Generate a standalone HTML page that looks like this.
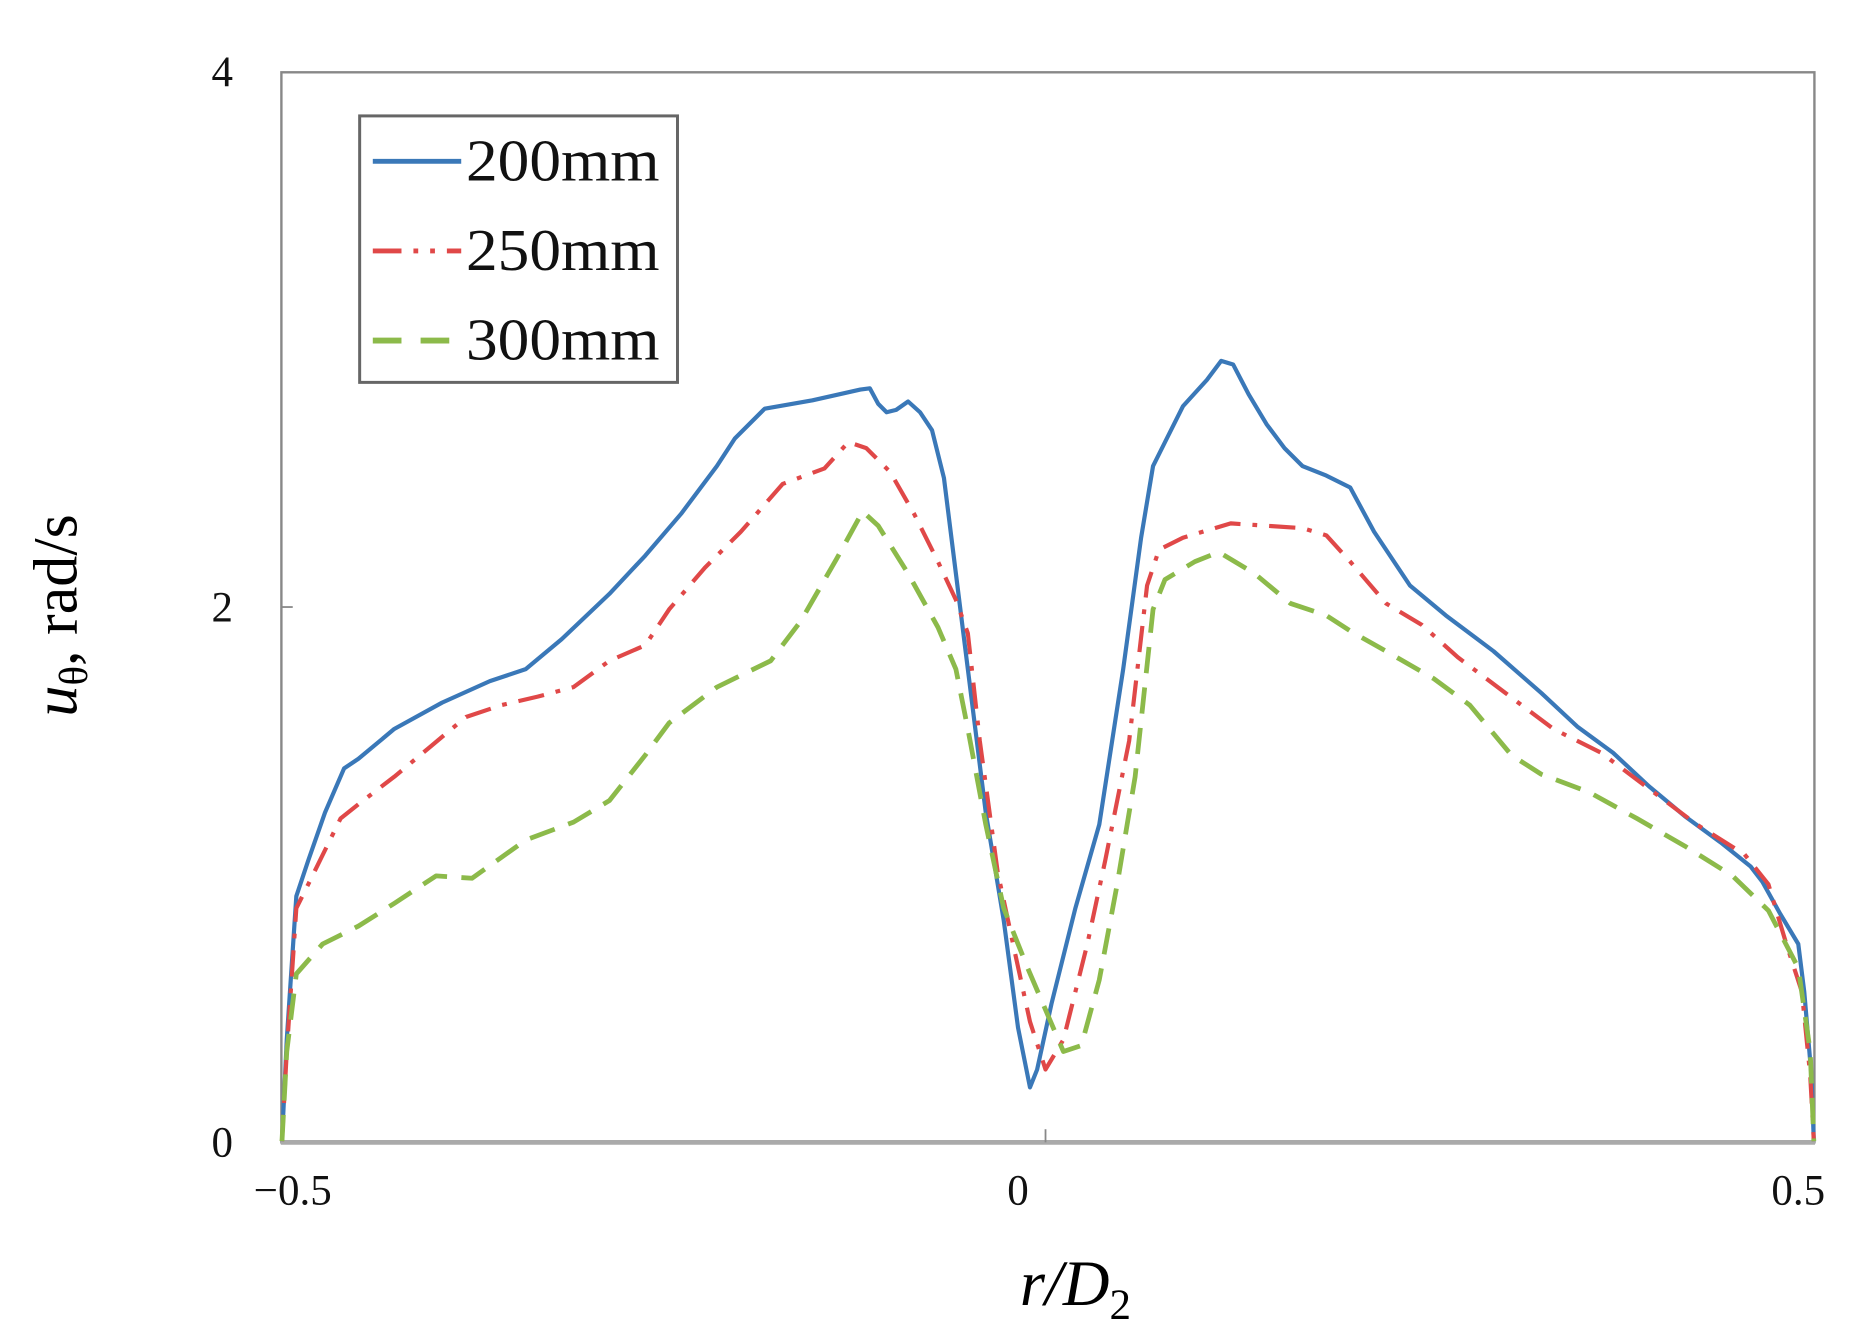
<!DOCTYPE html>
<html><head><meta charset="utf-8"><style>html,body{margin:0;padding:0;background:#fff}svg{display:block}</style></head>
<body>
<svg width="1864" height="1340" viewBox="0 0 1560 1121.4" preserveAspectRatio="none" xmlns="http://www.w3.org/2000/svg" font-family="'Liberation Serif', serif">
<rect x="0" y="0" width="1560" height="1121.4" fill="#fff"/>
<rect x="235.5" y="60.5" width="1283" height="895.5" fill="none" stroke="#888" stroke-width="2"/>
<line x1="235" y1="956" x2="1519" y2="956" stroke="#aaa" stroke-width="4"/>
<line x1="875" y1="945" x2="875" y2="956" stroke="#888" stroke-width="1.5"/>
<line x1="235" y1="508" x2="245" y2="508" stroke="#888" stroke-width="1.5"/>
<g font-size="36" fill="#111">
<text x="195" y="72" text-anchor="end">4</text>
<text x="195" y="520" text-anchor="end">2</text>
<text x="195" y="968" text-anchor="end">0</text>
<text x="245" y="1008" text-anchor="middle">−0.5</text>
<text x="852" y="1008" text-anchor="middle">0</text>
<text x="1505" y="1008" text-anchor="middle">0.5</text>
</g>
<text x="900" y="1092" font-size="54" font-style="italic" text-anchor="middle">r/D<tspan font-size="36" font-style="normal" dy="12">2</tspan></text>
<text transform="translate(64,515) rotate(-90)" font-size="52" text-anchor="middle"><tspan font-style="italic">u</tspan><tspan font-size="34" dy="9">θ</tspan><tspan dy="-9">, rad/s</tspan></text>
<rect x="301" y="97" width="266" height="223" fill="#fff" stroke="#666" stroke-width="2.5"/>
<g font-size="50" fill="#111">
<text x="390" y="151" textLength="162" lengthAdjust="spacingAndGlyphs">200mm</text>
<text x="390" y="226" textLength="162" lengthAdjust="spacingAndGlyphs">250mm</text>
<text x="390" y="301" textLength="162" lengthAdjust="spacingAndGlyphs">300mm</text>
</g>
<line x1="312" y1="135" x2="386" y2="135" stroke="#3a78b8" stroke-width="4"/>
<line x1="312" y1="210" x2="386" y2="210" stroke="#e04848" stroke-width="4" stroke-dasharray="24,10,4,10,4,10"/>
<line x1="312" y1="285" x2="386" y2="285" stroke="#8cba4a" stroke-width="5" stroke-dasharray="24,16"/>
<g fill="none" stroke-width="3.5" stroke-linejoin="round">
<polyline stroke="#3a78b8" points="236,955 240,870 248,750 258,720 272,680 288,643 300,635 330,610 370,588 410,570 440,560 470,535 510,497 540,465 570,430 600,390 615,367 640,342 680,335 720,326 728,325 735,338 742,345 750,343 760,336 770,345 780,360 790,400 800,480 810,560 825,680 840,770 852,860 862,910 868,895 880,840 900,760 920,690 940,560 955,450 965,390 975,370 990,340 1010,318 1022,302 1032,305 1045,330 1060,355 1075,375 1090,390 1110,398 1130,408 1150,445 1180,490 1210,515 1250,545 1290,580 1320,608 1350,630 1380,658 1410,683 1440,705 1465,725 1475,738 1490,765 1505,790 1510,830 1516,900 1518,955"/>
<polyline stroke="#e04848" stroke-dasharray="22,10,4,10" points="236,955 240,880 248,760 258,740 285,685 300,673 330,650 360,625 390,600 420,590 450,583 480,575 510,553 540,540 560,510 590,475 620,445 655,405 690,392 710,370 725,375 745,395 765,430 785,470 800,502 810,530 820,620 835,730 850,800 862,855 875,895 890,870 910,790 925,720 945,620 960,490 970,460 990,450 1030,438 1060,440 1090,442 1110,448 1130,470 1160,505 1190,523 1220,550 1260,580 1300,610 1340,630 1380,660 1420,690 1460,715 1480,740 1495,790 1508,830 1515,900 1518,955"/>
<polyline stroke="#8cba4a" stroke-width="4" stroke-dasharray="22,12" points="236,955 240,880 248,815 270,790 300,775 330,756 365,733 395,735 440,703 480,688 510,670 540,632 560,605 600,575 645,553 670,520 700,468 722,428 735,440 760,480 785,525 800,560 810,610 825,690 840,760 860,810 875,845 890,880 905,875 920,820 935,740 950,650 965,510 975,485 1000,470 1020,462 1050,480 1080,505 1110,515 1130,528 1160,545 1200,568 1230,590 1265,632 1290,648 1330,663 1370,685 1410,708 1450,733 1480,762 1505,810 1515,880 1518,955"/>
</g>
</svg>
</body></html>
